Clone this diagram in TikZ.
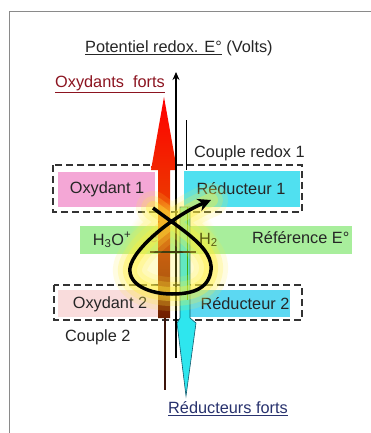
\documentclass[tikz,border=0pt]{standalone}
\usepackage{fontspec}
\setmainfont{Liberation Sans}
\usetikzlibrary{arrows.meta,fadings}
\definecolor{pinkA}{HTML}{F4A7D6}
\definecolor{pinkB}{HTML}{F9DCDC}
\definecolor{cyanA}{HTML}{50E0F0}
\definecolor{cyanB}{HTML}{5CD8F2}
\definecolor{cyanArrow}{HTML}{2EE6EE}
\definecolor{cyanEdge}{HTML}{145A6E}
\definecolor{greenBand}{HTML}{A8EE9C}
\definecolor{darkRed}{HTML}{8C1420}
\definecolor{navy}{HTML}{28326E}
\definecolor{frameGray}{HTML}{8A8A8A}
\definecolor{dashGray}{HTML}{333333}
\definecolor{brownA}{HTML}{6E1E00}
\definecolor{orangeA}{HTML}{EB3C00}
\definecolor{brownLine}{HTML}{3C140A}
\definecolor{glowY}{HTML}{FFF03C}
\definecolor{oliveText}{HTML}{5A5A14}
\tikzset{
  lbl/.style={font=\fontsize{16.3}{19}\selectfont, inner sep=0pt, text=black!85},
  couplebox/.style={draw=dashGray, line width=1.5pt, dash pattern=on 7pt off 4pt},
}
\begin{document}
\begin{tikzpicture}[x=1pt,y=-1pt]
\useasboundingbox (0,0) rectangle (371,433);
\fill[white] (0,0) rectangle (371,433);
% frame
\draw[frameGray, line width=1pt] (9,433) -- (9,12) -- (371,12);
% title
\node[lbl, anchor=west] (title) at (85,48) {\underline{Potentiel redox. E°} (Volts)};
\node[lbl, anchor=west, text=darkRed] (oxf) at (55,84) {\underline{Oxydants\ \ forts}};
\node[lbl, anchor=west, text=navy] (redf) at (168,409) {\underline{Réducteurs forts}};
% reference band
\fill[greenBand] (80,226) rectangle (352,254);
\node[lbl, anchor=west] (href) at (252,238) {Référence E°};
\node[lbl] (h3o) at (112,240) {H\textsubscript{3}O\textsuperscript{+}};
\node[lbl, text=black!40] (elec) at (154,238) {e};
% colored boxes
\fill[pinkA] (58,172) rectangle (155,207);
\fill[cyanA] (184,171) rectangle (300,207);
\fill[pinkB] (58,290) rectangle (162,317);
\fill[cyanB] (190,290) rectangle (290,317);
\node[lbl] (ox1) at (107,189) {Oxydant 1};
\node[lbl] (red1) at (241,189) {Réducteur 1};
\node[lbl] (ox2) at (110,304) {Oxydant 2};
\node[lbl] (red2) at (245,304) {Réducteur 2};
% dashed couple boxes
\draw[couplebox] (53,165) rectangle (302,212);
\draw[couplebox] (54,285) rectangle (302,320);
\node[lbl, anchor=west] (c1) at (194,153) {Couple redox 1};
\node[lbl, anchor=west] (c2) at (65,337) {Couple 2};
% red arrow
\shade[top color=red, bottom color=brownA, middle color=orangeA]
  (164,97) -- (177,170) -- (170,170) -- (170,318) -- (158,318) -- (158,170) -- (151,170) -- cycle;
\coordinate (redtop) at (165,318);
\coordinate (redend) at (165,390);
\draw[line width=1.2pt, brownLine] (redtop) -- (redend);
% cyan arrow
\fill[cyanArrow, draw=cyanEdge, line width=0.6pt]
  (180,207) -- (190,207) -- (190,318) -- (196,323) -- (186,396) -- (177,323) -- (180,318) -- cycle;
\draw[line width=1pt, green!60!black] (187,207) -- (187,300);
% axis
\coordinate (axbot) at (176,358);
\coordinate (axtop) at (176,72);
\draw[line width=1.6pt, -{Stealth[length=8pt,width=7pt]}] (axbot) -- (axtop);
\coordinate (c1a) at (186,120);
\coordinate (c1b) at (186,170);
\draw[line width=1pt] (c1a) -- (c1b);
% zero line
\coordinate (zl) at (150,252);
\coordinate (zr) at (196,252);
\draw[line width=1.2pt] (zl) -- (zr);
% glow
\coordinate (ls) at (153,208);
\coordinate (le) at (211,200);
\fill[glowY, opacity=0.25, path fading=circle with fuzzy edge 20 percent] (172,250) ellipse (48 and 50);
\foreach \w/\o in {34/0.15, 24/0.22, 14/0.35} {
  \draw[glowY, line width=\w pt, opacity=\o, line cap=round, line join=round]
    (ls) .. controls (185,232) and (213,248) .. (211,270)
    .. controls (209,290) and (190,294) .. (172,294)
    .. controls (150,294) and (128,285) .. (130,268)
    .. controls (133,248) and (175,215) .. (le);
}
\node[lbl, anchor=west, text=oliveText] (h2) at (199,240) {H\textsubscript{2}};
% loop arrow
\draw[line width=3.5pt, -{Stealth[length=13pt,width=13pt]}]
  (ls) .. controls (185,232) and (213,248) .. (211,270)
  .. controls (209,290) and (190,294) .. (172,294)
  .. controls (150,294) and (128,285) .. (130,268)
  .. controls (133,248) and (175,215) .. (le);
\end{tikzpicture}
\end{document}
